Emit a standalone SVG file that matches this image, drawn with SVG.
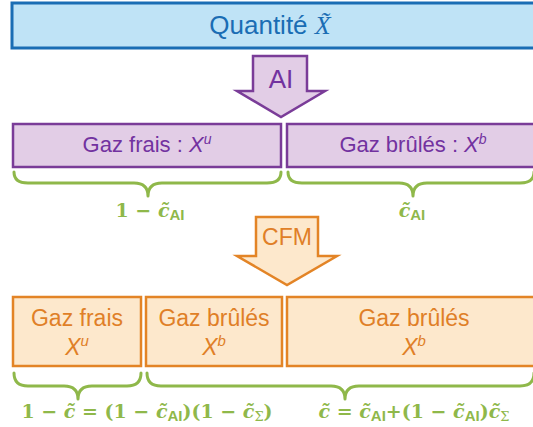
<svg xmlns="http://www.w3.org/2000/svg" width="533" height="427" viewBox="0 0 533 427">
<style>
.sans{font-family:"Liberation Sans",Arial,sans-serif}
.blue{fill:#bfe3f6;stroke:#1a6db4;stroke-width:3}
.purp{fill:#e2cde6;stroke:#7a3c98;stroke-width:2.5}
.oran{fill:#fde8cc;stroke:#e38426;stroke-width:2.5}
.tb{fill:#1a6db4}
.tp{fill:#7232a0}
.to{fill:#e07f27}
.brace{fill:none;stroke:#8fb84a;stroke-width:3;stroke-linejoin:round;stroke-linecap:round}
.math{font-family:"DejaVu Serif","Liberation Serif",serif;font-weight:bold;fill:#8fb84a;font-size:19px}
.mi{font-style:italic}
.sub{font-family:"Liberation Sans",Arial,sans-serif;font-weight:bold;font-size:15px}
</style>
<g id="quantite">
<rect class="blue" x="12" y="3" width="530" height="45"/>
<text class="sans tb" x="270" y="34" font-size="26" text-anchor="middle">Quantité <tspan font-family="Liberation Serif,serif" font-style="italic">X̃</tspan></text>
</g>
<g id="arrow-ai">
<path class="purp" d="M253,56 L307,56 L307,91 L325,91 L281,117 L237,91 L253,91 Z"/>
<text class="sans tp" x="281" y="88" font-size="26" text-anchor="middle">AI</text>
</g>
<g id="gaz-frais-ai">
<rect class="purp" x="13" y="124" width="268" height="43"/>
<text class="sans tp" x="147" y="152" font-size="22" text-anchor="middle">Gaz frais : <tspan font-style="italic">X</tspan><tspan font-style="italic" font-size="14" dy="-8">u</tspan></text>
</g>
<g id="gaz-brules-ai">
<rect class="purp" x="287" y="124" width="260" height="43"/>
<text class="sans tp" x="413" y="152" font-size="22" text-anchor="middle">Gaz brûlés : <tspan font-style="italic">X</tspan><tspan font-style="italic" font-size="14" dy="-8">b</tspan></text>
</g>
<g id="arrow-cfm">
<path class="oran" d="M256,217 L318,217 L318,256 L337,256 L287,285 L237,256 L256,256 Z"/>
<text class="sans to" x="287" y="245" font-size="23" text-anchor="middle">CFM</text>
</g>
<g id="gaz-frais-cfm">
<rect class="oran" x="13" y="297" width="128" height="69"/>
<text class="sans to" x="77" y="326" font-size="23" text-anchor="middle">Gaz frais</text>
<text class="sans to" x="77" y="355" font-size="23" text-anchor="middle"><tspan font-style="italic">X</tspan><tspan font-style="italic" font-size="15" dy="-9">u</tspan></text>
</g>
<g id="gaz-brules-cfm1">
<rect class="oran" x="146" y="297" width="136" height="69"/>
<text class="sans to" x="214" y="326" font-size="23" text-anchor="middle">Gaz brûlés</text>
<text class="sans to" x="214" y="355" font-size="23" text-anchor="middle"><tspan font-style="italic">X</tspan><tspan font-style="italic" font-size="15" dy="-9">b</tspan></text>
</g>
<g id="gaz-brules-cfm2">
<rect class="oran" x="287" y="297" width="260" height="69"/>
<text class="sans to" x="414" y="326" font-size="23" text-anchor="middle">Gaz brûlés</text>
<text class="sans to" x="414" y="355" font-size="23" text-anchor="middle"><tspan font-style="italic">X</tspan><tspan font-style="italic" font-size="15" dy="-9">b</tspan></text>
</g>
<g id="braces">
<path class="brace" d="M14,172 Q14,183 28,183 L134,183 Q148,183 148,196 Q148,183 162,183 L267,183 Q281,183 281,172"/>
<path class="brace" d="M288,172 Q288,183 302,183 L399,183 Q413,183 413,196 Q413,183 427,183 L520,183 Q534,183 534,172"/>
<path class="brace" d="M14,373 Q14,386 28,386 L64,386 Q78,386 78,399 Q78,386 92,386 L127,386 Q141,386 141,373"/>
<path class="brace" d="M147,373 Q147,386 161,386 L331,386 Q345,386 345,399 Q345,386 359,386 L520,386 Q534,386 534,373"/>
</g>
<g id="labels">
<text class="math" x="150" y="217" text-anchor="middle">1 − <tspan class="mi">c̃</tspan><tspan class="sub" dy="3">AI</tspan></text>
<text class="math" x="412" y="217" text-anchor="middle"><tspan class="mi">c̃</tspan><tspan class="sub" dy="3">AI</tspan></text>
<text class="math" x="147" y="418" text-anchor="middle">1 − <tspan class="mi">c̃</tspan> = (1 − <tspan class="mi">c̃</tspan><tspan class="sub" dy="3">AI</tspan><tspan dy="-3">)(1 − </tspan><tspan class="mi">c̃</tspan><tspan font-size="13" font-weight="normal" dy="3">Σ</tspan><tspan dy="-3">)</tspan></text>
<text class="math" x="414" y="418" text-anchor="middle"><tspan class="mi">c̃</tspan> = <tspan class="mi">c̃</tspan><tspan class="sub" dy="3">AI</tspan><tspan dy="-3">+(1 − </tspan><tspan class="mi">c̃</tspan><tspan class="sub" dy="3">AI</tspan><tspan dy="-3">)</tspan><tspan class="mi">c̃</tspan><tspan font-size="13" font-weight="normal" dy="3">Σ</tspan></text>
</g>
</svg>
